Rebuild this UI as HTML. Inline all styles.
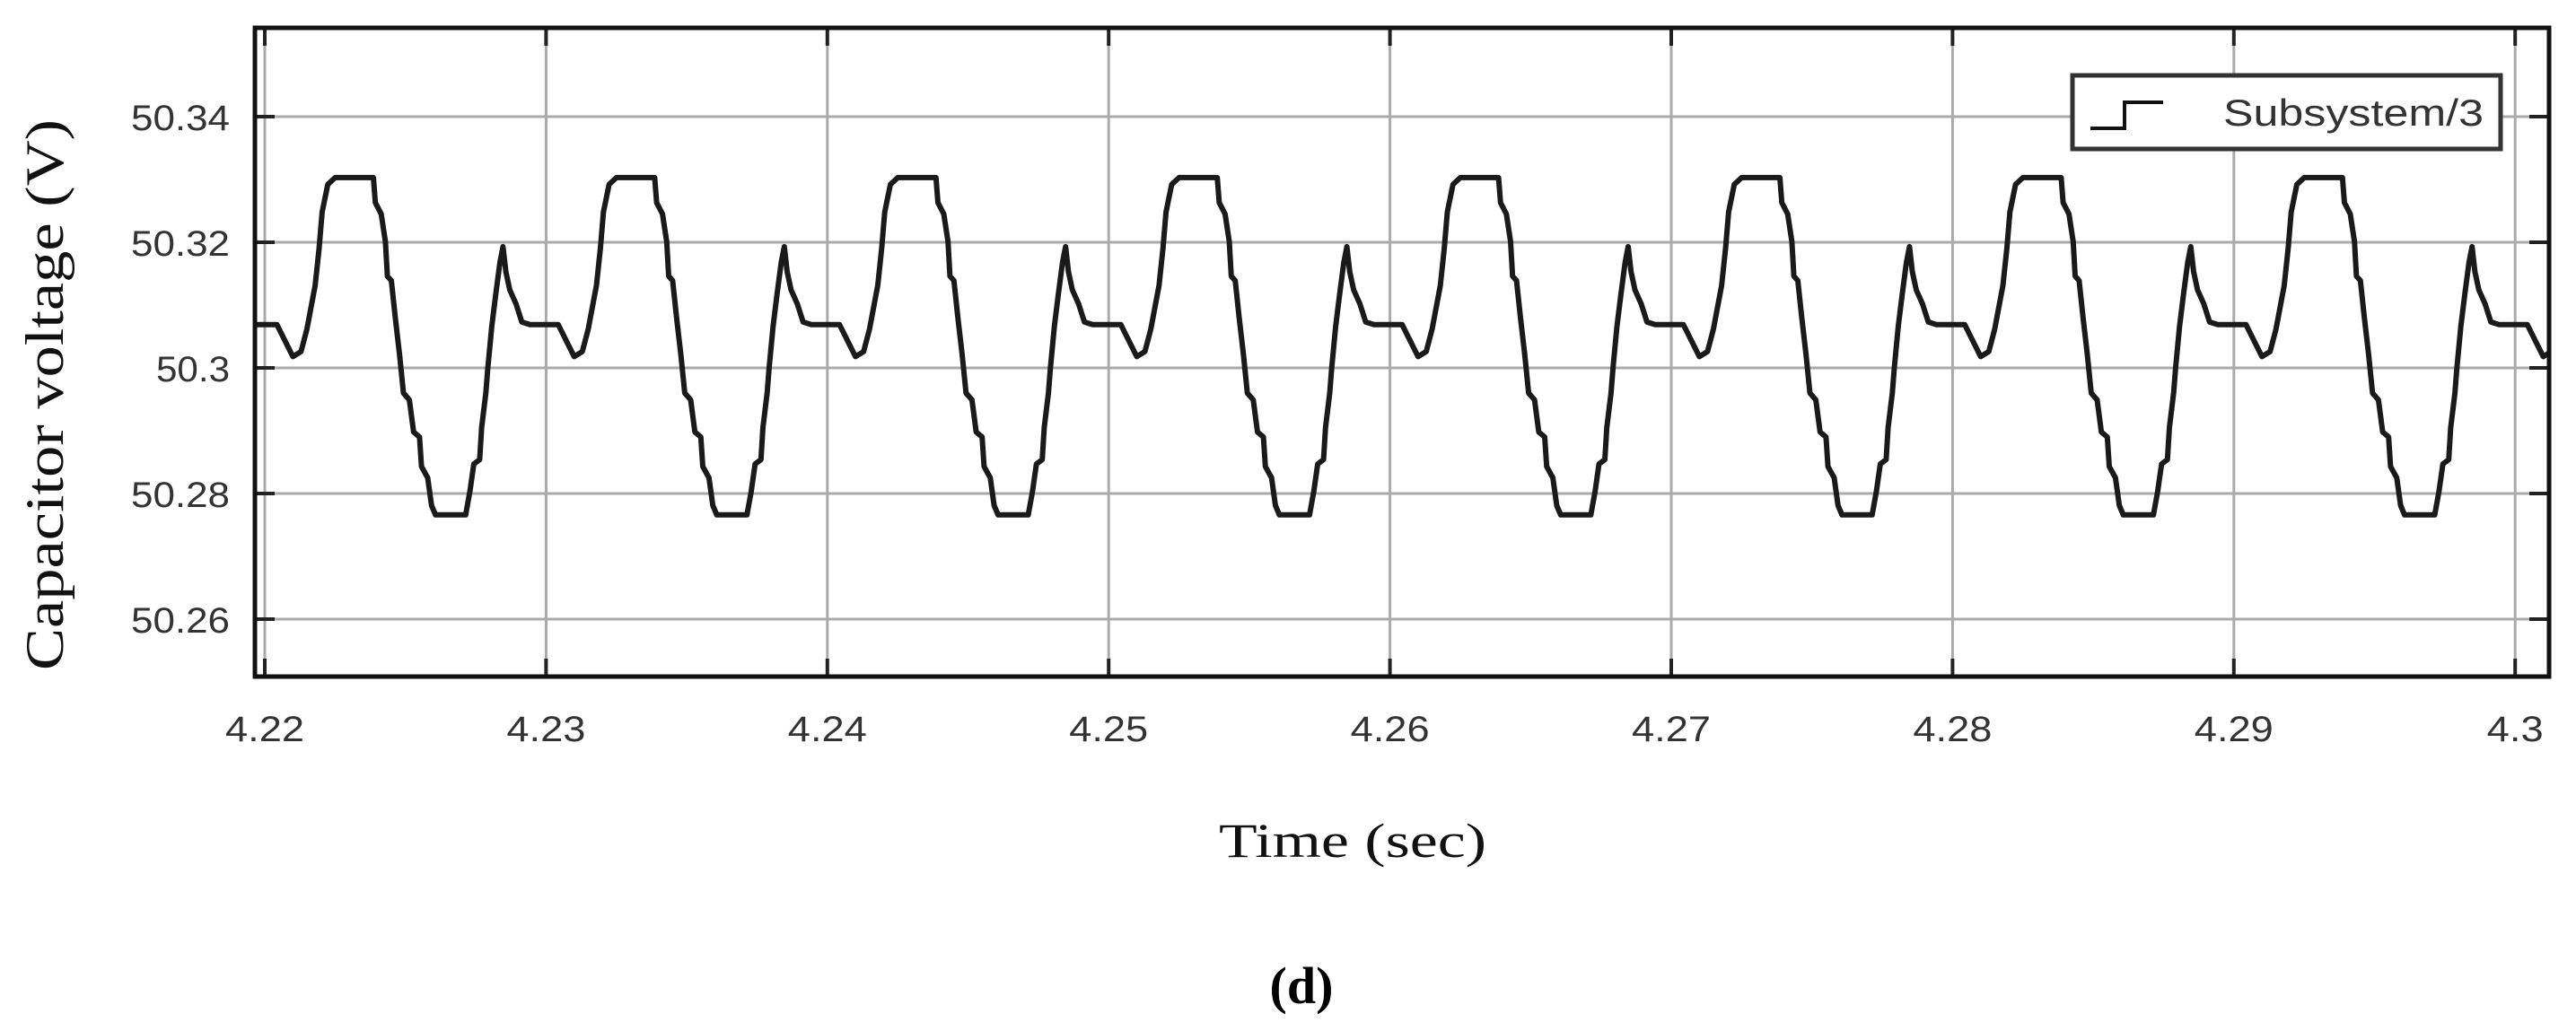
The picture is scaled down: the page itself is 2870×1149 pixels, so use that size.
<!DOCTYPE html>
<html>
<head>
<meta charset="utf-8">
<style>
html,body{margin:0;padding:0;background:#fff;}
svg{display:block;}
</style>
</head>
<body>
<svg id="chart" width="2870" height="1149" viewBox="0 0 2870 1149" xmlns="http://www.w3.org/2000/svg">
  <rect x="0" y="0" width="2870" height="1149" fill="#fff"/>
  <g id="grid"></g>
  <g id="ticks"></g>
  <g id="series"></g>
  <rect x="284" y="31" width="2556" height="723" fill="none" stroke="#111" stroke-width="5"/>
  <g id="ylabels"></g>
  <g id="xlabels"></g>
  <g>
    <rect x="2309" y="84" width="477" height="82" fill="#fff" stroke="#333" stroke-width="5"/>
    <polyline points="2329,143 2367,143 2367,114 2410,114" fill="none" stroke="#111" stroke-width="4"/>
    <text x="2767" y="140" text-anchor="end" font-family="Liberation Sans, sans-serif" font-size="42" fill="#333" textLength="290" lengthAdjust="spacingAndGlyphs">Subsystem/3</text>
  </g>
  <text transform="translate(70,440) rotate(-90)" text-anchor="middle" font-family="Liberation Serif, serif" font-size="60" fill="#111" textLength="614" lengthAdjust="spacingAndGlyphs">Capacitor voltage (V)</text>
  <text x="1507" y="955" text-anchor="middle" font-family="Liberation Serif, serif" font-size="54" fill="#111" textLength="298" lengthAdjust="spacingAndGlyphs">Time (sec)</text>
  <text x="1450" y="1118" text-anchor="middle" font-family="Liberation Serif, serif" font-size="58" font-weight="bold" fill="#000">(d)</text>
</svg>
<script>
// ---- data ----
const xTicks = [4.22, 4.23, 4.24, 4.25, 4.26, 4.27, 4.28, 4.29, 4.30];
const xTickLabels = ["4.22","4.23","4.24","4.25","4.26","4.27","4.28","4.29","4.3"];
const yTicks = [50.26, 50.28, 50.30, 50.32, 50.34];
const yTickLabels = ["50.26","50.28","50.3","50.32","50.34"];
// start time of each repeating cycle (s)
const cycleStarts = [4.21, 4.22, 4.23, 4.24, 4.25, 4.26, 4.27, 4.28, 4.29, 4.30];
// time offset within a cycle (ms) and voltage (V)
const cycleOffsetMs = [0, 0.43, 1.0, 1.29, 1.5, 1.79, 1.93, 2.04, 2.24, 2.5, 3.86, 3.93, 4.14, 4.29, 4.36, 4.5, 4.64, 4.79, 4.93, 5.14, 5.29, 5.5, 5.57, 5.79, 5.93, 6.07, 7.14, 7.29, 7.43, 7.64, 7.71, 7.86, 7.93, 8.07, 8.21, 8.36, 8.47, 8.57, 8.71, 8.93, 9.14, 9.43];
const cycleVoltage = [50.3069, 50.3069, 50.3018, 50.3026, 50.3062, 50.3131, 50.319, 50.3248, 50.3292, 50.3303, 50.3303, 50.3263, 50.3245, 50.3201, 50.3146, 50.3139, 50.308, 50.3022, 50.296, 50.2949, 50.2898, 50.289, 50.2843, 50.2825, 50.2781, 50.2766, 50.2766, 50.2803, 50.2847, 50.2854, 50.2905, 50.296, 50.30, 50.3066, 50.3117, 50.3168, 50.3193, 50.3153, 50.3124, 50.3102, 50.3073, 50.3069];

// ---- axes ----
const PL = 284, PR = 2840, PT = 31, PB = 754;
const X0 = 4.22, XPX0 = 295, XPX_PER = 313.4 / 0.01;
const Y0 = 50.30, YPX0 = 410, YPX_PER = 140 / 0.02;
function xs(t){ return XPX0 + (t - X0) * XPX_PER; }
function ys(v){ return YPX0 - (v - Y0) * YPX_PER; }
const NS = "http://www.w3.org/2000/svg";
function mk(tag){ return document.createElementNS(NS, tag); }

const grid = document.getElementById('grid');
const ticks = document.getElementById('ticks');
xTicks.forEach((t, i) => {
  const x = xs(t);
  const l = mk('line');
  l.setAttribute('x1', x); l.setAttribute('x2', x); l.setAttribute('y1', PT); l.setAttribute('y2', PB);
  l.setAttribute('stroke', '#aaa'); l.setAttribute('stroke-width', '3');
  
  
  grid.appendChild(l);
  [[PT, PT + 20], [PB - 20, PB]].forEach(([a, b]) => {
    const k = mk('line');
    k.setAttribute('x1', x); k.setAttribute('x2', x); k.setAttribute('y1', a); k.setAttribute('y2', b);
    k.setAttribute('stroke', '#222'); k.setAttribute('stroke-width', '4');
    
    
    ticks.appendChild(k);
  });
  const tx = mk('text');
  tx.setAttribute('x', x); tx.setAttribute('y', 826);
  tx.setAttribute('text-anchor', 'middle');
  tx.setAttribute('font-family', 'Liberation Sans, sans-serif');
  tx.setAttribute('font-size', '40'); tx.setAttribute('fill', '#333');
  tx.setAttribute('textLength', xTickLabels[i].length === 4 ? 88 : 63);
  tx.setAttribute('lengthAdjust', 'spacingAndGlyphs');
  tx.textContent = xTickLabels[i];
  
  
  document.getElementById('xlabels').appendChild(tx);
});
yTicks.forEach((v, i) => {
  const y = ys(v);
  const l = mk('line');
  l.setAttribute('x1', PL); l.setAttribute('x2', PR); l.setAttribute('y1', y); l.setAttribute('y2', y);
  l.setAttribute('stroke', '#aaa'); l.setAttribute('stroke-width', '3');
  
  
  grid.appendChild(l);
  [[PL, PL + 22], [PR - 22, PR]].forEach(([a, b]) => {
    const k = mk('line');
    k.setAttribute('x1', a); k.setAttribute('x2', b); k.setAttribute('y1', y); k.setAttribute('y2', y);
    k.setAttribute('stroke', '#222'); k.setAttribute('stroke-width', '4');
    
    
    ticks.appendChild(k);
  });
  const tx = mk('text');
  tx.setAttribute('x', 256); tx.setAttribute('y', y + 15);
  tx.setAttribute('text-anchor', 'end');
  tx.setAttribute('font-family', 'Liberation Sans, sans-serif');
  tx.setAttribute('font-size', '40'); tx.setAttribute('fill', '#333');
  tx.setAttribute('textLength', yTickLabels[i].length === 5 ? 110 : 82);
  tx.setAttribute('lengthAdjust', 'spacingAndGlyphs');
  tx.textContent = yTickLabels[i];
  
  
  document.getElementById('ylabels').appendChild(tx);
});

// ---- series ----
const clip = mk('clipPath');
clip.setAttribute('id', 'plotclip');
const cr = mk('rect');
cr.setAttribute('x', PL); cr.setAttribute('y', PT); cr.setAttribute('width', PR - PL); cr.setAttribute('height', PB - PT);
clip.appendChild(cr);
document.getElementById('chart').appendChild(clip);

const pts = [];
cycleStarts.forEach(t0 => {
  cycleOffsetMs.forEach((ms, j) => {
    pts.push(xs(t0 + ms / 1000).toFixed(1) + ',' + ys(cycleVoltage[j]).toFixed(1));
  });
});
const pl = mk('polyline');
pl.setAttribute('points', pts.join(' '));
pl.setAttribute('fill', 'none');
pl.setAttribute('stroke', '#1a1a1a');
pl.setAttribute('stroke-width', '6');
pl.setAttribute('stroke-linejoin', 'round');
pl.setAttribute('clip-path', 'url(#plotclip)');


document.getElementById('series').appendChild(pl);
</script>
</body>
</html>
